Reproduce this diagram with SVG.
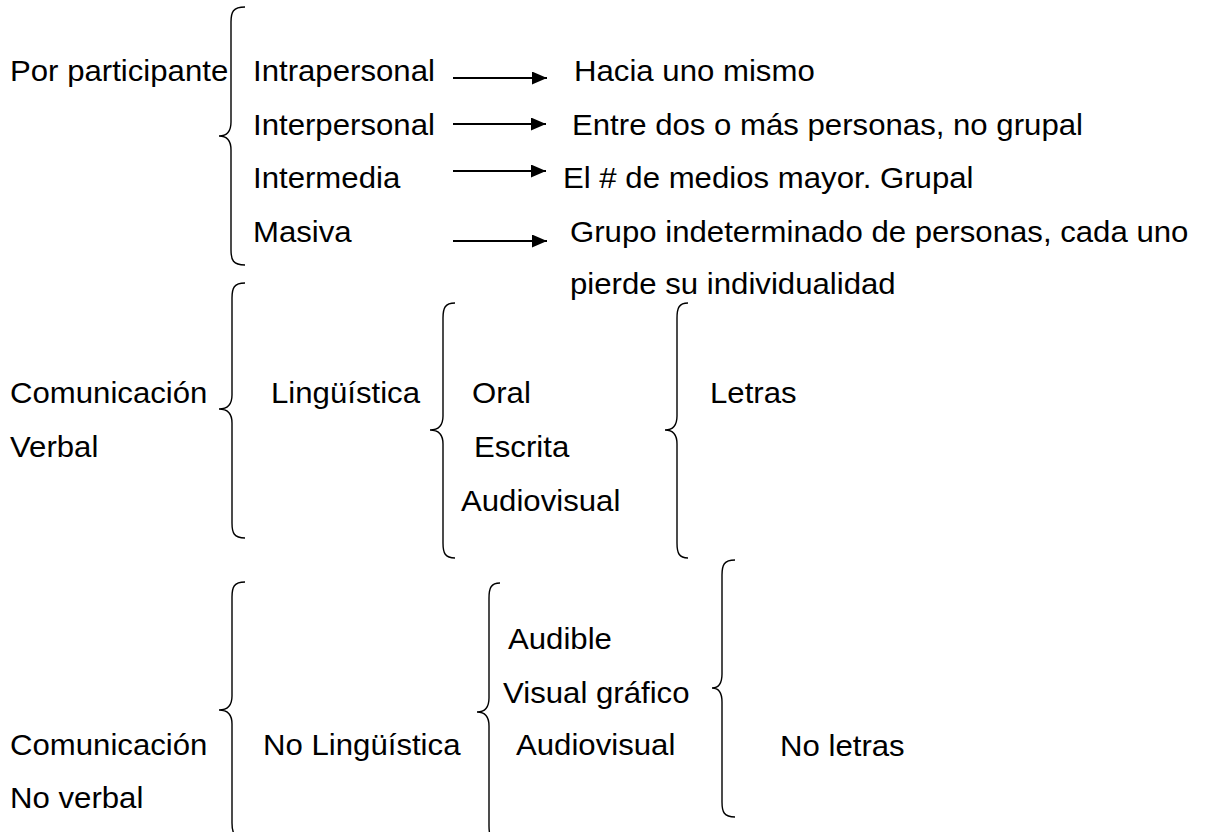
<svg xmlns="http://www.w3.org/2000/svg" width="1206" height="832" viewBox="0 0 1206 832">
<defs>
<style>
text{font-family:"Liberation Sans",Arial,sans-serif;font-size:29px;fill:#000;transform-box:fill-box;transform-origin:0 0;transform:scaleX(1.075)}
.br{fill:none;stroke:#000;stroke-width:1.4}
.ar{fill:none;stroke:#000;stroke-width:1.8}
</style>
<marker id="ah" markerWidth="16" markerHeight="13" refX="15" refY="6.5" orient="auto" markerUnits="userSpaceOnUse"><path d="M0,0 L15,6.5 L0,13 Z" fill="#000"/></marker>
</defs>
<rect width="1206" height="832" fill="#fff"/>
<g id="brackets">
<path id="b1" class="br" d="M245,7 C233,7 231,12 231,22 L231,122 C231,132 226,136 219,136 C226,136 231,140 231,150 L231,250 C231,260 233,265 245,265"/>
<path id="b2" class="br" d="M245,283 C234,283 232,288 232,298 L232,395 C232,405 227,409 219,409 C227,409 232,413 232,423 L232,523 C232,533 234,538 245,538"/>
<path id="b3" class="br" d="M455,303 C445,303 443,308 443,318 L443,416 C443,426 438,430 430,430 C438,430 443,434 443,444 L443,543 C443,553 445,558 455,558"/>
<path id="b4" class="br" d="M688,303 C679,303 677,308 677,318 L677,416 C677,426 672,430 665,430 C672,430 677,434 677,444 L677,543 C677,553 679,558 688,558"/>
<path id="b5" class="br" d="M245,582 C234,582 232,587 232,597 L232,696 C232,706 227,710 219,710 C227,710 232,714 232,724 L232,823 C232,833 234,838 245,838"/>
<path id="b6" class="br" d="M500,583 C491,583 489,588 489,598 L489,698 C489,708 484,712 477,712 C484,712 489,716 489,726 L489,826 C489,836 491,841 500,841"/>
<path id="b7" class="br" d="M735,560 C724,560 722,565 722,575 L722,674 C722,684 718,688 712,688 C718,688 722,692 722,702 L722,802 C722,812 724,817 735,817"/>
</g>
<g id="connectors">
<line class="ar" x1="453" y1="78" x2="547" y2="78" marker-end="url(#ah)"/>
<line class="ar" x1="453" y1="124" x2="546" y2="124" marker-end="url(#ah)"/>
<line class="ar" x1="453" y1="171" x2="546" y2="171" marker-end="url(#ah)"/>
<line class="ar" x1="453" y1="241" x2="547" y2="241" marker-end="url(#ah)"/>
</g>
<g id="n-participante"><text x="10" y="81">Por participante</text></g>
<g id="n-intrapersonal"><text x="253" y="81">Intrapersonal</text></g>
<g id="n-interpersonal"><text x="253" y="135">Interpersonal</text></g>
<g id="n-intermedia"><text x="253" y="188">Intermedia</text></g>
<g id="n-masiva"><text x="253" y="242">Masiva</text></g>
<g id="n-hacia"><text x="574" y="81">Hacia uno mismo</text></g>
<g id="n-entre"><text x="572" y="135">Entre dos o más personas, no grupal</text></g>
<g id="n-medios"><text x="563" y="188">El # de medios mayor. Grupal</text></g>
<g id="n-grupo"><text x="570" y="242">Grupo indeterminado de personas, cada uno</text><text x="570" y="294">pierde su individualidad</text></g>
<g id="n-verbal"><text x="10" y="403">Comunicación</text><text x="10" y="457">Verbal</text></g>
<g id="n-linguistica"><text x="271" y="403">Lingüística</text></g>
<g id="n-oral"><text x="472" y="403">Oral</text></g>
<g id="n-escrita"><text x="474" y="457">Escrita</text></g>
<g id="n-audiovisual1"><text x="461" y="511">Audiovisual</text></g>
<g id="n-letras"><text x="710" y="403">Letras</text></g>
<g id="n-noverbal"><text x="10" y="755">Comunicación</text><text x="10" y="808">No verbal</text></g>
<g id="n-nolinguistica"><text x="263" y="755">No Lingüística</text></g>
<g id="n-audible"><text x="508" y="649">Audible</text></g>
<g id="n-visual"><text x="503" y="703">Visual gráfico</text></g>
<g id="n-audiovisual2"><text x="516" y="755">Audiovisual</text></g>
<g id="n-noletras"><text x="780" y="756">No letras</text></g>
</svg>
